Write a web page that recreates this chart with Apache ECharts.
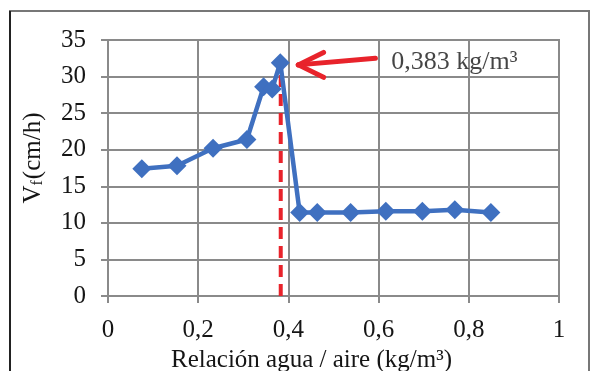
<!DOCTYPE html>
<html>
<head>
<meta charset="utf-8">
<script src="https://cdn.jsdelivr.net/npm/echarts@6/dist/echarts.min.js"></script>
<style>
html,body{margin:0;padding:0;background:#fff;}
#c{width:590px;height:371px;}
</style>
</head>
<body>
<div id="c"></div>
<script>
// Data
var xValues = [0.075, 0.153, 0.233, 0.308, 0.345, 0.364, 0.382, 0.425, 0.464, 0.538, 0.616, 0.697, 0.769, 0.849];
var yValues = [17.4, 17.8, 20.2, 21.4, 28.6, 28.3, 31.9, 11.4, 11.4, 11.4, 11.6, 11.6, 11.8, 11.4];
var optimumX = 0.383;
var optimumTop = 30.6;
var arrowTail = [0.593, 32.5];
var arrowTip = [0.422, 31.6];
var arrowWingA = [0.478, 33.3];
var arrowWingB = [0.478, 29.9];
var labelPos = [0.628, 32.0];
var labelText = '0,383 kg/m³';
var xTicks = [0, 0.2, 0.4, 0.6, 0.8, 1];
var yTicks = [0, 5, 10, 15, 20, 25, 30, 35];

var serif = '"Liberation Serif", "DejaVu Serif", serif';
var txt = '#151515';
var gridC = '#8a8a8a';
var chart = echarts.init(document.getElementById('c'));
var pts = xValues.map(function (x, i) { return [x, yValues[i]]; });

chart.setOption({
  backgroundColor: '#fff',
  animation: false,
  graphic: [{
    type: 'rect',
    shape: { x: 10, y: 11, width: 579, height: 400 },
    style: { fill: 'none', stroke: '#777', lineWidth: 2 },
    silent: true
  }, {
    type: 'line',
    shape: { x1: 10, y1: 11, x2: 10, y2: 371 },
    style: { stroke: '#222', lineWidth: 2 },
    silent: true
  }],
  grid: {
    left: 108, right: 31, top: 40, bottom: 75,
    containLabel: false, outerBoundsMode: 'none',
    show: true, borderColor: gridC, borderWidth: 2
  },
  xAxis: {
    type: 'value', min: 0, max: 1, interval: 0.2,
    name: 'Relación agua / aire (kg/m³)',
    nameLocation: 'middle', nameGap: 50,
    nameTextStyle: { fontFamily: serif, fontSize: 25, color: txt, padding: [0, 44, 0, 0] },
    axisLine: { show: true, lineStyle: { color: gridC, width: 2 } },
    axisTick: { show: true, length: 7, inside: false, lineStyle: { color: gridC, width: 2 } },
    axisLabel: {
      fontFamily: serif, fontSize: 25, color: txt, margin: 22,
      formatter: function (v) { return String(+v.toFixed(1)).replace('.', ','); }
    },
    splitLine: { show: true, lineStyle: { color: gridC, width: 2 } }
  },
  yAxis: {
    type: 'value', min: 0, max: 35, interval: 5,
    name: '{v|V}{s|f}{v|(cm/h)}',
    nameLocation: 'middle', nameGap: 62, nameRotate: 90,
    nameTextStyle: {
      padding: [0, 0, 0, 20],
      rich: {
        v: { fontFamily: serif, fontSize: 25, color: txt },
        s: { fontFamily: serif, fontSize: 16, color: txt, verticalAlign: 'bottom', padding: [10, 1, 0, 0] }
      }
    },
    axisLine: { show: true, lineStyle: { color: gridC, width: 2 } },
    axisTick: { show: true, length: 7, inside: false, lineStyle: { color: gridC, width: 2 } },
    axisLabel: { fontFamily: serif, fontSize: 25, color: txt, margin: 22 },
    splitLine: { show: true, lineStyle: { color: gridC, width: 2 } }
  },
  series: [{
    type: 'line',
    data: [[optimumX, 0], [optimumX, optimumTop]],
    symbol: 'none',
    lineStyle: { color: '#e8232b', width: 4, type: [12, 7] },
    z: 3
  }, {
    type: 'line',
    data: pts,
    symbol: 'diamond',
    symbolSize: 19,
    lineStyle: { color: '#3f70c0', width: 4.5 },
    itemStyle: { color: '#3f70c0' },
    z: 4,
    markLine: {
      silent: true,
      symbol: ['none', 'none'],
      label: { show: false },
      lineStyle: { color: '#e8232b', width: 5, type: 'solid', cap: 'round' },
      data: [
        [{ coord: arrowTail }, { coord: arrowTip }],
        [{ coord: arrowTip }, { coord: arrowWingA }],
        [{ coord: arrowTip }, { coord: arrowWingB }]
      ]
    }
  }, {
    type: 'scatter',
    data: [labelPos],
    symbolSize: 0,
    label: {
      show: true, position: 'right', distance: 0,
      formatter: labelText,
      fontFamily: serif, fontSize: 26, color: txt
    },
    z: 5
  }]
});
</script>
</body>
</html>
